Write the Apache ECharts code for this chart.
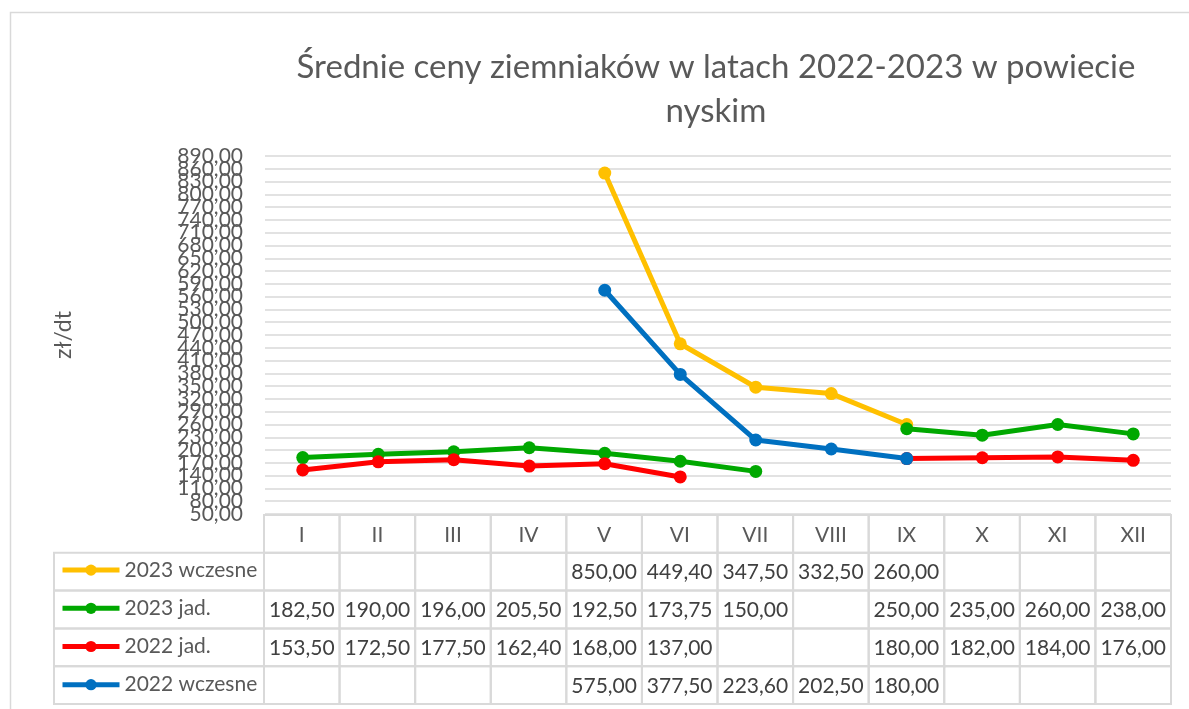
<!DOCTYPE html>
<html>
<head>
<meta charset="utf-8">
<script src="https://cdn.jsdelivr.net/npm/echarts@6/dist/echarts.min.js"></script>
<style>
  html, body { margin: 0; padding: 0; background: #fff; }
  #chart { width: 1189px; height: 709px; }
</style>
</head>
<body>
<div id="chart"></div>
<script>
// months on the category axis
const months = ['I', 'II', 'III', 'IV', 'V', 'VI', 'VII', 'VIII', 'IX', 'X', 'XI', 'XII']

// series, same order as in the table
const seriesNames = ['2023 wczesne', '2023 jad.', '2022 jad.', '2022 wczesne']
const seriesColors = ['#FFC000', '#00A800', '#FF0000', '#0070C0']

const early2023 = [null, null, null, null, 850.00, 449.40, 347.50, 332.50, 260.00, null, null, null]
const late2023 = [182.50, 190.00, 196.00, 205.50, 192.50, 173.75, 150.00, null, 250.00, 235.00, 260.00, 238.00]
const late2022 = [153.50, 172.50, 177.50, 162.40, 168.00, 137.00, null, null, 180.00, 182.00, 184.00, 176.00]
const early2022 = [null, null, null, null, 575.00, 377.50, 223.60, 202.50, 180.00, null, null, null]

// y axis ticks
const yMin = 50
const yMax = 890
const yStep = 30

const seriesData = [early2023, late2023, late2022, early2022]
const fmt = v => (v == null ? '' : v.toFixed(2).replace('.', ','))

// table under the plot: row 0 = month header, rows 1..4 = series values
const tableRows = ['hdr'].concat(seriesNames)
const tableCells = []
tableRows.forEach((row, r) => {
  months.forEach((m, c) => {
    let text = r === 0 ? m : fmt(seriesData[r - 1][c])
    tableCells.push({ value: [c, r], text })
  })
})

const FONT = 'Lato'
const LEGEND_LEFT = 54
const BORDER = '#d9d9d9'

const yLabel = {
  fontSize: 21,
  color: '#595959',
  margin: 22,
  formatter: v => fmt(v),
}

let chart = echarts.init(document.getElementById('chart'))

chart.setOption({
  animation: false,
  textStyle: { fontFamily: FONT },
  title: {
    text: 'Średnie ceny ziemniaków w latach 2022-2023 w powiecie\nnyskim',
    left: 711,
    top: 40,
    textAlign: 'center',
    textStyle: {
      fontFamily: FONT,
      fontSize: 33,
      fontWeight: 'normal',
      color: '#595959',
      lineHeight: 44,
    },
  },
  legend: {
    orient: 'vertical',
    left: 60,
    top: 551,
    padding: 0,
    itemGap: 0,
    itemWidth: 57,
    itemHeight: 14,
    data: seriesNames,
    lineStyle: { width: 5 },
    textStyle: { fontSize: 21, color: '#595959', lineHeight: 38.2, fontFamily: FONT },
  },
  grid: [
    { left: 265, right: 18, top: 156, height: 358 },
    { left: 264, right: 18, top: 515, height: 189 },
  ],
  xAxis: [
    {
      gridIndex: 0,
      type: 'category',
      data: months,
      boundaryGap: true,
      axisLine: { show: false },
      axisTick: { show: false },
      axisLabel: { show: false },
    },
    {
      gridIndex: 1,
      type: 'category',
      data: months,
      boundaryGap: true,
      show: false,
    },
  ],
  yAxis: [
    {
      gridIndex: 0,
      type: 'value',
      min: yMin,
      max: yMax,
      interval: yStep,
      name: 'zł/dt',
      nameLocation: 'middle',
      nameGap: 190,
      nameTextStyle: { fontSize: 23, color: '#595959', fontFamily: FONT },
      axisLine: { show: false },
      axisTick: { show: false },
      axisLabel: Object.assign({ showMinLabel: false, showMaxLabel: false }, yLabel),
      splitLine: { lineStyle: { color: BORDER, width: 1.5 } },
    },
    {
      // second copy of the same scale, only for the end labels (min and max)
      gridIndex: 0,
      type: 'value',
      position: 'left',
      min: yMin,
      max: yMax,
      interval: yMax - yMin,
      axisLine: { show: false },
      axisTick: { show: false },
      splitLine: { show: false },
      axisLabel: Object.assign({ showMinLabel: true, showMaxLabel: true }, yLabel),
    },
    {
      gridIndex: 1,
      type: 'category',
      data: tableRows,
      inverse: true,
      boundaryGap: true,
      show: false,
    },
  ],
  graphic: [
    {
      type: 'rect',
      silent: true,
      z: -1,
      shape: { x: 10.5, y: 12.5, width: 1200, height: 720 },
      style: { fill: 'none', stroke: BORDER, lineWidth: 1.5 },
    },
  ],
  series: seriesNames.map((name, i) => ({
    name,
    type: 'line',
    xAxisIndex: 0,
    yAxisIndex: 0,
    data: seriesData[i].map(v => (v == null ? '-' : v)),
    connectNulls: false,
    symbol: 'circle',
    symbolSize: 13,
    color: seriesColors[i],
    lineStyle: { width: 5, color: seriesColors[i] },
    itemStyle: { color: seriesColors[i] },
    emphasis: { disabled: true },
    z: 2 + i,
  })).concat([
    {
      type: 'custom',
      name: 'tabela',
      xAxisIndex: 1,
      yAxisIndex: 2,
      data: tableCells,
      silent: true,
      renderItem(params, api) {
        let c = api.value(0)
        let r = api.value(1)
        let p = api.coord([c, r])
        let s = api.size([1, 1])
        let x0 = p[0] - s[0] / 2
        let y0 = p[1] - s[1] / 2
        let children = [
          {
            type: 'rect',
            shape: { x: x0, y: y0, width: s[0], height: s[1] },
            style: { fill: 'none', stroke: BORDER, lineWidth: 2 },
          },
          {
            type: 'text',
            style: {
              x: p[0],
              y: p[1] + 1,
              text: tableCells[params.dataIndex].text,
              align: 'center',
              verticalAlign: 'middle',
              fontFamily: FONT,
              fontSize: 21,
              fill: r === 0 ? '#595959' : '#404040',
            },
          },
        ]
        if (c === 0 && r > 0) {
          children.push({
            type: 'rect',
            shape: { x: LEGEND_LEFT, y: y0, width: x0 - LEGEND_LEFT, height: s[1] },
            style: { fill: 'none', stroke: BORDER, lineWidth: 2 },
          })
        }
        return { type: 'group', children }
      },
    },
  ]),
})
</script>
</body>
</html>
